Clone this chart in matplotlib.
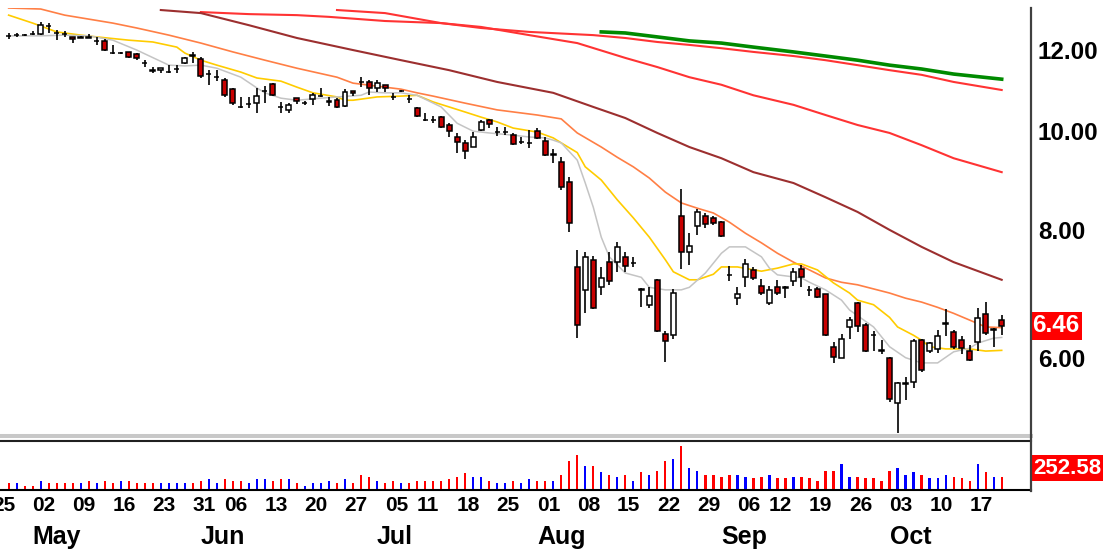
import numpy as np
import pandas as pd
import matplotlib
matplotlib.use('Agg')
import matplotlib.pyplot as plt
from matplotlib import font_manager
from matplotlib.lines import Line2D
from matplotlib.ticker import NullLocator, FixedLocator, FormatStrFormatter
from matplotlib.transforms import blended_transform_factory

# trading days, 2005 (Apr 25 only shows as a cut label at the left edge)
holidays = ['2005-05-30', '2005-07-04', '2005-09-05']
days = pd.bdate_range('2005-04-25', '2005-10-20')
days = days[~days.isin(pd.to_datetime(holidays))]

opens = [12.39, 12.41, 12.42, 12.44, 12.44, 12.68, 12.47, 12.45, 12.35, 12.33,
         12.37, 12.24, 12.25, 11.92, 11.91, 11.95, 11.89, 11.66, 11.48, 11.47,
         11.42, 11.49, 11.66, 11.86, 11.76, 11.37, 11.29, 11.22, 10.99, 10.56,
         10.62, 10.65, 10.94, 11.12, 10.57, 10.49, 10.77, 10.65, 10.75, 10.82,
         10.68, 10.72, 10.58, 10.95, 11.17, 11.17, 11.02, 11.09, 10.81, 10.94,
         10.75, 10.53, 10.26, 10.26, 10.32, 10.14, 9.87, 9.74, 9.65, 10.03,
         10.25, 9.98, 9.98, 9.91, 9.75, 9.73, 10.00, 9.78, 9.48, 9.33,
         8.92, 7.37, 7.00, 7.49, 7.04, 7.45, 7.45, 7.54, 7.43, 7.01,
         6.76, 7.16, 6.34, 6.32, 8.26, 7.62, 8.08, 8.26, 8.23, 8.16,
         7.24, 6.87, 7.20, 7.32, 7.06, 6.80, 7.04, 7.04, 7.14, 7.33,
         7.00, 7.01, 6.93, 6.16, 6.01, 6.44, 6.80, 6.47, 6.33, 6.11,
         6.01, 5.43, 5.67, 5.69, 6.25, 6.10, 6.13, 6.49, 6.37, 6.25,
         6.10, 6.23, 6.63, 6.40, 6.54]
highs = [12.47, 12.47, 12.45, 12.52, 12.78, 12.75, 12.55, 12.52, 12.36, 12.39,
         12.44, 12.36, 12.30, 12.14, 11.94, 11.96, 11.91, 11.73, 11.55, 11.53,
         11.60, 11.60, 11.81, 11.95, 11.81, 11.47, 11.47, 11.27, 11.02, 10.80,
         10.80, 11.02, 11.07, 11.14, 10.68, 10.66, 10.77, 10.70, 10.90, 11.02,
         10.80, 10.78, 10.99, 10.95, 11.29, 11.22, 11.22, 11.10, 10.90, 10.97,
         10.85, 10.56, 10.42, 10.34, 10.34, 10.19, 9.96, 9.80, 9.98, 10.25,
         10.28, 10.09, 10.09, 9.96, 9.87, 10.03, 10.07, 9.87, 9.61, 9.43,
         9.02, 7.66, 7.62, 7.55, 7.37, 7.62, 7.79, 7.62, 7.54, 7.03,
         7.04, 7.17, 6.38, 7.01, 8.78, 7.95, 8.39, 8.32, 8.26, 8.17,
         7.38, 7.04, 7.50, 7.37, 7.17, 7.06, 7.16, 7.06, 7.35, 7.40,
         7.06, 7.04, 6.94, 6.23, 6.34, 6.58, 6.81, 6.50, 6.38, 6.25,
         6.02, 5.69, 5.75, 6.27, 6.27, 6.23, 6.40, 6.70, 6.40, 6.31,
         6.19, 6.72, 6.81, 6.42, 6.61]
lows = [12.30, 12.36, 12.38, 12.40, 12.41, 12.47, 12.27, 12.36, 12.20, 12.32,
        12.33, 12.14, 11.97, 11.89, 11.89, 11.79, 11.73, 11.55, 11.40, 11.40,
        11.39, 11.40, 11.63, 11.66, 11.27, 11.09, 11.19, 10.80, 10.61, 10.53,
        10.53, 10.42, 10.65, 10.82, 10.42, 10.42, 10.63, 10.61, 10.61, 10.80,
        10.58, 10.53, 10.56, 10.83, 11.04, 10.85, 10.92, 10.92, 10.72, 10.92,
        10.66, 10.33, 10.23, 10.19, 10.07, 9.87, 9.52, 9.39, 9.65, 10.00,
        10.07, 9.89, 9.91, 9.69, 9.71, 9.63, 9.83, 9.45, 9.31, 8.76,
        7.97, 6.28, 6.64, 6.70, 6.92, 7.08, 7.29, 7.29, 7.37, 6.74,
        6.72, 6.37, 5.95, 6.27, 7.33, 7.40, 7.92, 8.04, 8.10, 7.88,
        7.14, 6.76, 7.04, 7.16, 6.92, 6.77, 6.92, 6.88, 7.06, 7.04,
        6.91, 6.87, 6.31, 5.94, 6.00, 6.27, 6.37, 6.09, 6.10, 6.06,
        5.44, 5.07, 5.46, 5.61, 5.82, 6.07, 6.07, 6.31, 6.13, 6.06,
        5.96, 6.10, 6.32, 6.16, 6.32]
closes = [12.38, 12.42, 12.41, 12.43, 12.69, 12.66, 12.46, 12.44, 12.29, 12.36,
          12.34, 12.25, 12.00, 11.91, 11.92, 11.81, 11.79, 11.65, 11.46, 11.52,
          11.43, 11.50, 11.79, 11.85, 11.32, 11.38, 11.30, 10.85, 10.65, 10.55,
          10.63, 10.82, 10.95, 10.85, 10.56, 10.61, 10.70, 10.66, 10.85, 10.83,
          10.69, 10.56, 10.92, 10.89, 11.16, 11.02, 11.14, 11.02, 10.80, 10.95,
          10.74, 10.35, 10.25, 10.25, 10.09, 10.00, 9.76, 9.56, 9.87, 10.21,
          10.16, 9.99, 9.99, 9.71, 9.76, 9.74, 9.85, 9.48, 9.49, 8.82,
          8.13, 6.47, 7.53, 6.72, 7.19, 7.14, 7.71, 7.39, 7.44, 7.00,
          6.90, 6.38, 6.24, 6.95, 7.62, 7.72, 8.34, 8.12, 8.14, 7.90,
          7.23, 6.94, 7.42, 7.19, 6.95, 7.00, 6.95, 7.03, 7.29, 7.20,
          6.99, 6.89, 6.32, 6.02, 6.27, 6.54, 6.45, 6.10, 6.32, 6.10,
          5.48, 5.68, 5.68, 6.24, 5.85, 6.21, 6.31, 6.50, 6.16, 6.14,
          5.98, 6.57, 6.35, 6.41, 6.46]
volume = [78, 78, 49, 49, 102, 78, 78, 78, 78, 78,
          102, 78, 102, 78, 102, 102, 78, 78, 78, 78,
          78, 78, 78, 78, 102, 131, 78, 131, 102, 102,
          78, 131, 131, 102, 131, 131, 78, 49, 78, 78,
          102, 78, 131, 78, 173, 152, 102, 78, 102, 78,
          78, 102, 102, 102, 102, 131, 152, 201, 152, 152,
          102, 78, 78, 102, 78, 131, 102, 104, 104, 175,
          329, 404, 278, 278, 204, 175, 154, 175, 104, 204,
          175, 224, 329, 353, 507, 250, 224, 175, 175, 154,
          175, 175, 154, 133, 154, 175, 133, 133, 154, 154,
          133, 104, 224, 224, 299, 154, 154, 133, 133, 104,
          224, 250, 175, 204, 175, 133, 133, 175, 154, 133,
          104, 299, 204, 154, 154]

# moving averages at these candle numbers
ma_gray_at = [0, 4, 7, 10, 13, 16, 20, 22, 24, 26, 29, 31, 32, 34, 36, 39, 41, 44, 45, 47,
              49, 51, 54, 56, 58, 60, 63, 65, 67, 68, 69, 71, 72, 73, 74, 75, 77, 79, 80, 82,
              84, 85, 87, 89, 90, 92, 94, 95, 96, 99, 100, 102, 104, 105, 108, 110, 112, 114,
              116, 118, 120, 121, 123, 124]
ma_gray = [12.39, 12.39, 12.41, 12.39, 12.27, 12.00, 11.60, 11.58, 11.60, 11.52,
           11.29, 11.02, 10.90, 10.77, 10.72, 10.77, 10.80, 10.84, 10.92, 10.90,
           10.90, 10.84, 10.56, 10.18, 10.00, 9.96, 9.91, 9.87, 9.85, 9.80,
           9.74, 9.37, 8.90, 8.43, 7.88, 7.54, 7.27, 7.20, 7.04, 7.00,
           7.00, 7.04, 7.27, 7.60, 7.71, 7.71, 7.54, 7.35, 7.24, 7.19,
           7.12, 7.00, 6.84, 6.69, 6.44, 6.16, 6.01, 5.94, 5.94, 6.09,
           6.14, 6.21, 6.28, 6.29]
ma_yellow_at = [0, 3, 6, 9, 11, 15, 18, 21, 22, 24, 26, 29, 31, 34, 36, 38, 41, 42, 43, 46,
                49, 51, 53, 55, 57, 59, 61, 63, 66, 68, 69, 71, 72, 74, 76, 78, 80, 82, 83, 85,
                86, 88, 89, 91, 94, 96, 98, 99, 101, 103, 105, 106, 108, 110, 111, 113, 114,
                115, 117, 120, 122, 124]
ma_yellow = [12.98, 12.75, 12.50, 12.41, 12.36, 12.27, 12.22, 12.08, 11.92, 11.73,
             11.60, 11.42, 11.27, 11.19, 11.04, 10.90, 10.80, 10.72, 10.72, 10.80,
             10.82, 10.84, 10.68, 10.56, 10.44, 10.32, 10.21, 10.07, 9.98, 9.85,
             9.74, 9.53, 9.23, 8.96, 8.57, 8.23, 7.88, 7.49, 7.29, 7.16,
             7.16, 7.25, 7.37, 7.37, 7.30, 7.35, 7.42, 7.42, 7.32, 7.11,
             6.95, 6.84, 6.77, 6.58, 6.44, 6.32, 6.25, 6.16, 6.13, 6.13,
             6.10, 6.11]
ma_orange_at = [0, 4, 7, 13, 16, 20, 24, 28, 32, 36, 41, 43, 47, 49, 51, 53, 57, 61, 66, 69,
                71, 74, 76, 78, 80, 82, 84, 86, 88, 90, 92, 94, 96, 98, 100, 102, 104, 106,
                110, 112, 114, 116, 118, 120, 122, 124]
ma_orange = [13.19, 13.16, 12.98, 12.75, 12.61, 12.41, 12.19, 11.95, 11.73, 11.52,
             11.29, 11.14, 11.04, 10.99, 10.90, 10.82, 10.65, 10.49, 10.37, 10.28,
             9.96, 9.65, 9.43, 9.23, 9.00, 8.72, 8.51, 8.41, 8.32, 8.15,
             7.95, 7.78, 7.60, 7.45, 7.32, 7.19, 7.12, 7.08, 6.95, 6.87,
             6.81, 6.73, 6.64, 6.54, 6.44, 6.43]
ma_brown_at = [19, 24, 30, 36, 43, 49, 55, 61, 68, 73, 77, 81, 85, 89, 93, 98, 102, 106,
               110, 114, 118, 124]
ma_brown = [13.13, 13.04, 12.69, 12.33, 12.00, 11.73, 11.47, 11.17, 10.90, 10.56,
            10.30, 9.96, 9.65, 9.41, 9.12, 8.90, 8.62, 8.34, 8.01, 7.71, 7.45, 7.16]
ma_red1_at = [41, 47, 54, 59, 65, 71, 77, 81, 85, 89, 93, 98, 102, 106, 110, 114, 118, 124]
ma_red1 = [13.13, 13.04, 12.75, 12.64, 12.41, 12.19, 11.79, 11.55, 11.29, 11.10,
           10.84, 10.61, 10.37, 10.14, 9.96, 9.69, 9.41, 9.12]
ma_red2_at = [24, 30, 36, 40, 47, 54, 59, 65, 73, 77, 81, 85, 89, 93, 98, 102, 106, 110,
              114, 118, 124]
ma_red2 = [13.07, 13.01, 12.98, 12.93, 12.81, 12.75, 12.61, 12.50, 12.41, 12.33,
           12.22, 12.14, 12.05, 11.95, 11.84, 11.73, 11.60, 11.47, 11.35, 11.17, 10.97]
ma_green_at = [74, 77, 81, 85, 89, 93, 98, 102, 106, 110, 114, 118, 124]
ma_green = [12.50, 12.47, 12.36, 12.25, 12.19, 12.08, 11.95, 11.84, 11.73, 11.60,
            11.50, 11.37, 11.24]

price_ticks = [6, 8, 10, 12]
last_price = 6.46
vol_mark = 252.58

# fonts: narrow bold looks closest to the old bitmap font
names = {f.name for f in font_manager.fontManager.ttflist}
if 'Liberation Sans Narrow' in names:
    num_font, num_size, day_size = 'Liberation Sans Narrow', 22, 17.5
else:
    num_font, num_size, day_size = 'Liberation Sans', 17.5, 15
plt.rcParams['font.family'] = ['Liberation Sans', 'DejaVu Sans']

W, H = 1105, 549
fig = plt.figure(figsize=(W / 100, H / 100), dpi=100)
fig.patch.set_facecolor('white')


def px_box(x0, y0, x1, y1):
    return [x0 / W, 1 - y1 / H, (x1 - x0) / W, (y1 - y0) / H]


ax = fig.add_axes(px_box(0, 8, 1031, 436))
axv = fig.add_axes(px_box(0, 442, 1031, 490))

pos = np.arange(len(days)) - 1
x = pos[1:]
o = np.array(opens)
c = np.array(closes)
up = c >= o

# moving averages first, candles on top
ax.plot(ma_green_at, ma_green, color='#008a00', lw=2.6, zorder=2)
ax.plot(ma_red2_at, ma_red2, color='#ff3333', lw=1.5, zorder=2)
ax.plot(ma_red1_at, ma_red1, color='#ff3333', lw=1.5, zorder=2)
ax.plot(ma_brown_at, ma_brown, color='#9c2f2f', lw=1.5, zorder=2)
ax.plot(ma_orange_at, ma_orange, color='#ff7f45', lw=1.2, zorder=2)
ax.plot(ma_yellow_at, ma_yellow, color='#ffcc00', lw=1.2, zorder=2)
ax.plot(ma_gray_at, ma_gray, color='#c4c4c4', lw=1.1, zorder=2)

ax.vlines(x, lows, highs, color='black', lw=1.2, zorder=3)
ax.bar(x, np.abs(c - o), bottom=np.minimum(o, c), width=0.62,
       color=np.where(up, 'white', '#c80000'), edgecolor='black', lw=1.1, zorder=4)

ax.set_yscale('log')
ax.set_ylim(5.04, 13.19)
ax.set_xlim(-1.08, 127.66)
ax.yaxis.tick_right()
ax.yaxis.set_major_locator(FixedLocator(price_ticks))
ax.yaxis.set_major_formatter(FormatStrFormatter('%.2f'))
ax.yaxis.set_minor_locator(NullLocator())
ax.tick_params(axis='y', length=0, pad=5)
ax.set_xticks([])
for lab in ax.get_yticklabels():
    lab.set_fontfamily(num_font)
    lab.set_fontsize(num_size)
    lab.set_fontweight('bold')
for side in ['top', 'left', 'right']:
    ax.spines[side].set_visible(False)
ax.spines['bottom'].set_color('#c8c8c8')
ax.spines['bottom'].set_linewidth(2.9)

ax.text(1.0 + 1 / 1031, last_price, f'{last_price:.2f}',
        transform=blended_transform_factory(ax.transAxes, ax.transData),
        ha='left', va='center', color='white', fontfamily=num_font,
        fontsize=num_size, fontweight='bold', clip_on=False,
        bbox=dict(boxstyle='square,pad=0.1', fc='#ff0000', ec='none'))

# volume
axv.bar(x, volume, width=0.28, color=np.where(up, '#0000ff', '#ff0000'), zorder=2)
axv.set_xlim(-1.08, 127.66)
axv.set_ylim(0, 552)
axv.set_xticks([])
axv.set_yticks([])
for side in ['top', 'left', 'right']:
    axv.spines[side].set_visible(False)
axv.spines['bottom'].set_color('black')
axv.spines['bottom'].set_linewidth(1.5)
axv.text(1.0 + 2 / 1031, vol_mark, f'{vol_mark:.2f}',
         transform=blended_transform_factory(axv.transAxes, axv.transData),
         ha='left', va='center', color='white', fontfamily=num_font,
         fontsize=num_size - 1.5, fontweight='bold', clip_on=False,
         bbox=dict(boxstyle='square,pad=0.1', fc='#ff0000', ec='none'))

# frame lines between and beside the panels
fig.add_artist(Line2D([0, 1031 / W], [1 - 440.5 / H] * 2, color='#202020', lw=1.5))
fig.add_artist(Line2D([1031 / W] * 2, [1 - 8 / H, 1 - 491 / H], color='#404040', lw=1.6))

# date labels
wd = np.asarray(days.weekday)
mo = np.asarray(days.month)
week_start = np.r_[True, wd[1:] < wd[:-1]]
month_start = np.r_[False, mo[1:] != mo[:-1]]
tr = blended_transform_factory(axv.transData, fig.transFigure)
for p, d in zip(pos[week_start], days[week_start]):
    fig.text(p + 0.4, 1 - 511 / H, d.strftime('%d'), transform=tr, ha='center',
             va='baseline', fontfamily=num_font, fontsize=day_size, fontweight='bold')
for p, d in zip(pos[month_start], days[month_start]):
    fig.text(p - 1.0, 1 - 544 / H, d.strftime('%b'), transform=tr, ha='left',
             va='baseline', fontsize=18, fontweight='bold')

fig.savefig('out.png', dpi=100)
